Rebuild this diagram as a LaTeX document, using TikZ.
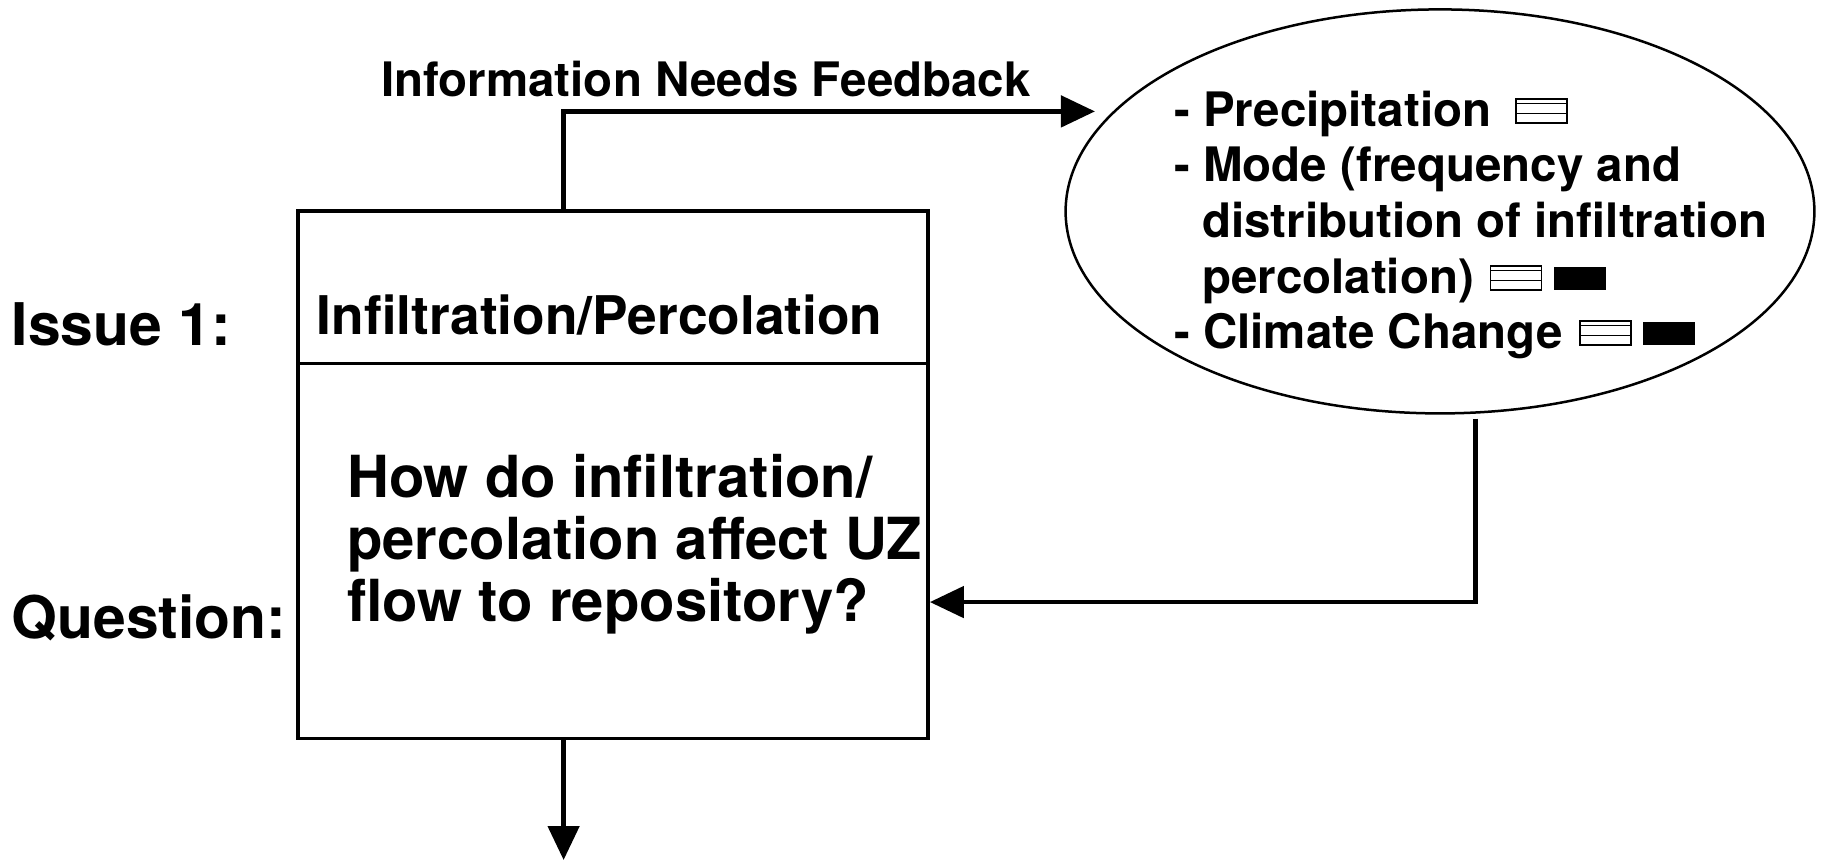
\documentclass[tikz,border=0pt]{standalone}
\usepackage{fontspec}
\setmainfont{TeX Gyre Heros}
\usetikzlibrary{shapes.geometric,arrows.meta,calc}
\newcommand\hatchicon{\tikz[x=1pt,y=1pt,baseline=-3pt]{%
  \draw[line width=1.3pt] (0,0) rectangle (51,24);
  \draw[line width=1.1pt] (0,9.5) -- (51,9.5);
  \draw[line width=0.6pt] (0,20) -- (51,20);}}
\newcommand\blackicon{\raisebox{3pt}{\rule{52pt}{23pt}}}
\begin{document}
\begin{tikzpicture}[x=1pt,y=-1pt,
  txt/.style={inner sep=0pt, anchor=base west, font=\bfseries\fontsize{#1}{#1}\selectfont},
  arrow/.style={line width=4.8pt, -{Triangle[length=34pt,width=31pt]}},
  boxst/.style={draw, line width=3.5pt, minimum width=630pt, minimum height=527.5pt, inner sep=0pt},
  ellst/.style={draw, ellipse, line width=2.5pt, minimum width=748.8pt, minimum height=404pt, inner sep=0pt}]
\useasboundingbox (0,0) rectangle (1826,860);
% title
\node[txt=47.5] (title) at (381,96.7) {Information Needs Feedback};
% main box
\node[boxst] (box) at (613.1,474.55) {};
\draw[line width=3pt] ([yshift=111.25pt]box.west) -- ([yshift=111.25pt]box.east);
\node[txt=53.3] (head) at (316.7,334.2) {Infiltration/Percolation};
\node[txt=58] (q1) at (347,497) {How do infiltration/};
\node[txt=58] (q2) at (347,559) {percolation affect UZ};
\node[txt=58] (q3) at (347,621) {flow to repository?};
% side labels
\node[txt=58.8] (issue) at (11.6,345.9) {Issue 1:};
\node[txt=58.8] (qlab) at (11.6,638) {Question:};
% ellipse
\node[ellst] (ell) at (1440,211.4) {};
\node[txt=47.5] (e1) at (1174,126) {- Precipitation\hspace{24pt}\hatchicon};
\node[txt=47.5] (e2) at (1174,181) {- Mode (frequency and};
\node[txt=47.5] (e3) at (1202,237) {distribution of infiltration};
\node[txt=47.5] (e4) at (1202,293) {percolation)\hspace{16pt}\hatchicon\hspace{12pt}\blackicon};
\node[txt=47.5] (e5) at (1174,348) {- Climate Change\hspace{17pt}\hatchicon\hspace{11pt}\blackicon};
% connectors
\coordinate (downend) at (563.6,860);
\draw[arrow] ([xshift=-49.5pt]box.north) |- ([xshift=-18pt]ell.163);
\draw[arrow] ([xshift=35.3pt,yshift=-4pt]ell.south) |- ([yshift=-127.5pt]box.east);
\draw[arrow] ([xshift=-49.5pt]box.south) -- (downend);
\end{tikzpicture}
\end{document}
